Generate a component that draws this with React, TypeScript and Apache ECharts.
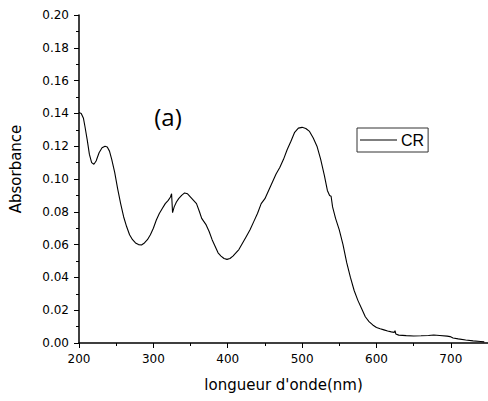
import React, { useEffect, useRef } from "react";
import * as echarts from "echarts";

const wavelengths: number[] = [
  200, 203, 206, 208, 211, 214, 217, 220, 223, 227, 231, 235, 238, 241, 244, 248,
  252, 256, 260, 264, 268, 272, 276, 280, 284, 288, 292, 296, 300, 304, 308, 312,
  316, 320, 323, 324.5, 325.8, 328, 331, 334, 338, 342, 346, 350, 354, 358, 362,
  365, 368, 371, 375, 379, 383, 387, 391, 395, 399, 403, 407, 411, 415, 420, 425,
  430, 435, 440, 445, 450, 455, 460, 465, 470, 475, 480, 485, 490, 495, 500, 505,
  510, 515, 520, 525, 530, 534, 537, 539, 541, 545, 550, 555, 560, 565, 570, 575,
  580, 585, 590, 595, 600, 605, 610, 615, 620, 624, 625, 626, 630, 640, 650, 660,
  670, 677, 685, 695, 699, 703, 710, 720, 730, 740, 745,
];

const absorbance: number[] = [
  0.1405, 0.14, 0.137, 0.132, 0.124, 0.115, 0.11, 0.109, 0.111, 0.116, 0.119, 0.12,
  0.1195, 0.117, 0.112, 0.104, 0.094, 0.085, 0.077, 0.071, 0.066, 0.063, 0.061, 0.06,
  0.0598, 0.061, 0.063, 0.066, 0.07, 0.075, 0.079, 0.082, 0.085, 0.087, 0.089, 0.091,
  0.0795, 0.083, 0.086, 0.088, 0.09, 0.0915, 0.091, 0.089, 0.087, 0.085, 0.08, 0.076,
  0.074, 0.072, 0.068, 0.063, 0.059, 0.055, 0.053, 0.0515, 0.051, 0.0515, 0.053,
  0.055, 0.057, 0.061, 0.065, 0.069, 0.074, 0.079, 0.085, 0.088, 0.093, 0.098, 0.103,
  0.107, 0.112, 0.118, 0.123, 0.1285, 0.131, 0.1315, 0.1308, 0.129, 0.125, 0.12,
  0.112, 0.102, 0.093, 0.09, 0.0895, 0.083, 0.076, 0.069, 0.06, 0.049, 0.04, 0.032,
  0.026, 0.021, 0.016, 0.013, 0.011, 0.0095, 0.0087, 0.008, 0.0073, 0.0068, 0.0065,
  0.0075, 0.0055, 0.0048, 0.0045, 0.0043, 0.0044, 0.0046, 0.0049, 0.0046, 0.0042,
  0.0039, 0.003, 0.0025, 0.0018, 0.0013, 0.0009, 0.0007,
];

const seriesName = "CR";
const xAxisTitle = "longueur d'onde(nm)";
const yAxisTitle = "Absorbance";
const panelLabel = "(a)";

export default function App() {
  const ref = useRef<HTMLDivElement>(null);

  useEffect(() => {
    if (!ref.current) return;
    const chart = echarts.init(ref.current, null, { renderer: "svg" });
    const data = wavelengths.map((w, i) => [w, absorbance[i]]);
    const axisFont = "DejaVu Sans";
    chart.setOption({
      animation: false,
      backgroundColor: "#ffffff",
      grid: { left: 79, right: -3.5, top: 15, bottom: 58, containLabel: false },
      xAxis: {
        type: "value",
        min: 200,
        max: 750,
        interval: 100,
        name: xAxisTitle,
        nameLocation: "middle",
        nameGap: 34,
        nameTextStyle: { fontFamily: axisFont, fontSize: 15, color: "#000" },
        axisLine: { show: true, onZero: false, lineStyle: { color: "#000", width: 1.5 } },
        axisTick: { show: true, length: 5, lineStyle: { color: "#000", width: 1 } },
        minorTick: { show: true, splitNumber: 2, length: 3, lineStyle: { color: "#000", width: 1 } },
        splitLine: { show: false },
        axisLabel: {
          fontFamily: axisFont,
          fontSize: 12,
          color: "#000",
          margin: 10,
          showMaxLabel: false,
        },
      },
      yAxis: {
        type: "value",
        min: 0,
        max: 0.2,
        interval: 0.02,
        axisLine: { show: true, onZero: false, lineStyle: { color: "#000", width: 1.5 } },
        axisTick: { show: true, length: 5, lineStyle: { color: "#000", width: 1 } },
        minorTick: { show: true, splitNumber: 2, length: 3, lineStyle: { color: "#000", width: 1 } },
        splitLine: { show: false },
        axisLabel: {
          fontFamily: axisFont,
          fontSize: 12,
          color: "#000",
          margin: 10,
          formatter: (v: number) => v.toFixed(2),
        },
      },
      legend: {
        left: 357,
        top: 128,
        orient: "vertical",
        padding: [4, 4, 4, 3],
        borderColor: "#333",
        borderWidth: 1,
        itemWidth: 37,
        itemHeight: 1.2,
        itemGap: 0,
        itemStyle: { color: "#000", borderWidth: 0 },
        textStyle: { fontFamily: "Liberation Sans", fontSize: 16, color: "#000", padding: [0, 0, 0, -1] },
        data: [{ name: seriesName, icon: "rect" }],
      },
      graphic: [
        {
          type: "text",
          x: 16,
          y: 169,
          rotation: Math.PI / 2,
          style: {
            text: yAxisTitle,
            fontFamily: axisFont,
            fontSize: 15,
            fill: "#000",
            align: "center",
            verticalAlign: "middle",
          },
        },
        {
          type: "text",
          x: 168,
          y: 116,
          style: {
            text: panelLabel,
            fontFamily: "Open Sans",
            fontSize: 24,
            fill: "#000",
            align: "center",
            verticalAlign: "middle",
          },
        },
      ],
      series: [
        {
          name: seriesName,
          type: "line",
          data,
          symbol: "none",
          showSymbol: false,
          smooth: false,
          lineStyle: { color: "#000", width: 1.1 },
          itemStyle: { color: "#000" },
        },
      ],
    });
    return () => chart.dispose();
  }, []);

  return (
    <div
      ref={ref}
      style={{ position: "fixed", left: 0, top: 0, width: 488, height: 401 }}
    />
  );
}
